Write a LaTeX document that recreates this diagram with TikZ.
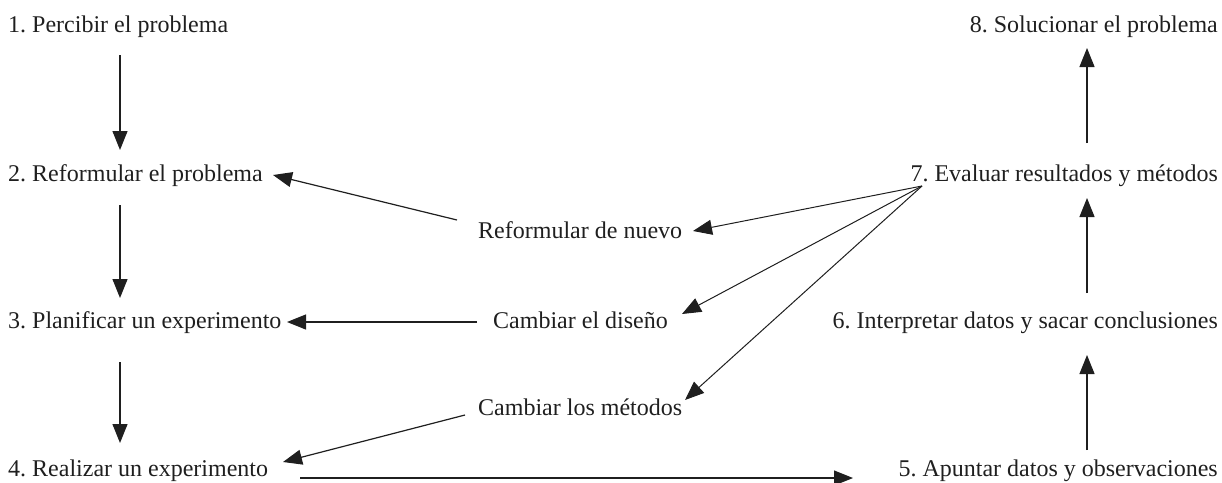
\documentclass[tikz,border=0pt]{standalone}
\usepackage{fontspec}
\setmainfont{Liberation Serif}
\usetikzlibrary{arrows.meta}
\begin{document}
\frenchspacing
\begin{tikzpicture}[x=1pt,y=-1pt,
  lbl/.style={inner sep=0pt,font=\fontsize{24}{28}\selectfont,text=black!88},
  arr/.style={line width=1.2pt,draw=black!88,-{Triangle[length=19pt,width=15pt]}},
  thin/.style={line width=1pt,draw=black!88,-{Triangle[length=19pt,width=15pt]}}]
\useasboundingbox (0,0) rectangle (1222,482);
% left column
\node[lbl,anchor=base west] (n1) at (8,32) {1. Percibir el problema};
\node[lbl,anchor=base west] (n2) at (8,181) {2. Reformular el problema};
\node[lbl,anchor=base west] (n3) at (8,328) {3. Planificar un experimento};
\node[lbl,anchor=base west] (n4) at (8,476) {4. Realizar un experimento};
% right column
\node[lbl,anchor=base east] (n8) at (1218,32) {8. Solucionar el problema};
\node[lbl,anchor=base east] (n7) at (1218,181) {7. Evaluar resultados y métodos};
\node[lbl,anchor=base east] (n6) at (1218,328) {6. Interpretar datos y sacar conclusiones};
\node[lbl,anchor=base east] (n5) at (1218,476) {5. Apuntar datos y observaciones};
% middle
\node[lbl,anchor=base west] (rn) at (478,238) {Reformular de nuevo};
\node[lbl,anchor=base west] (cd) at (493,328) {Cambiar el diseño};
\node[lbl,anchor=base west] (cm) at (478,415) {Cambiar los métodos};
% verticals left
\draw[arr] ([shift={(112,23)}]n1.base west) -- ([shift={(112,-31)}]n2.base west);
\draw[arr] ([shift={(112,24)}]n2.base west) -- ([shift={(112,-30)}]n3.base west);
\draw[arr] ([shift={(112,34)}]n3.base west) -- ([shift={(112,-33)}]n4.base west);
% bottom horizontal
\draw[arr] ([shift={(292,2)}]n4.base west) -- ([shift={(-365,2)}]n5.base east);
% verticals right
\draw[arr] ([shift={(-131,-26)}]n5.base east) -- ([shift={(-131,27)}]n6.base east);
\draw[arr] ([shift={(-131,-35)}]n6.base east) -- ([shift={(-131,17)}]n7.base east);
\draw[arr] ([shift={(-131,-38)}]n7.base east) -- ([shift={(-131,16)}]n8.base east);
% middle to left
\draw[arr] ([shift={(-21,-18)}]rn.base west) -- ([shift={(265,-6)}]n2.base west);
\draw[arr] ([shift={(-16,-6)}]cd.base west) -- ([shift={(279,-6)}]n3.base west);
\draw[arr] ([shift={(-13,0)}]cm.base west) -- ([shift={(275,-14)}]n4.base west);
% from 7 to middle
\draw[thin] ([shift={(-296,5)}]n7.base east) -- ([shift={(215,-7)}]rn.base west);
\draw[thin] ([shift={(-296,5)}]n7.base east) -- ([shift={(189,-14)}]cd.base west);
\draw[thin] ([shift={(-296,5)}]n7.base east) -- ([shift={(207,-15)}]cm.base west);
\end{tikzpicture}
\end{document}
